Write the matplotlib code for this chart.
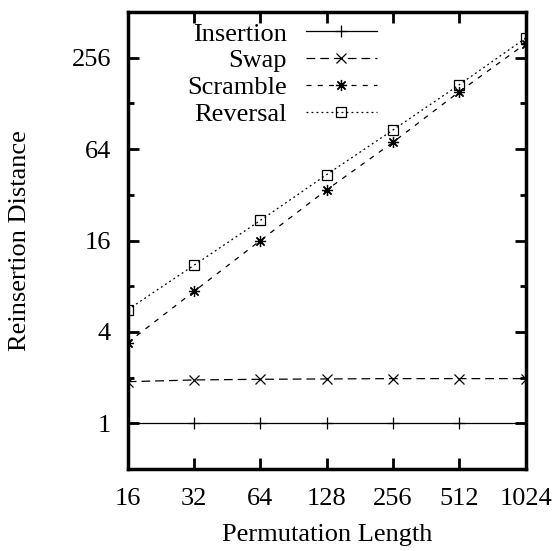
import numpy as np
import matplotlib
matplotlib.use('Agg')
import matplotlib.pyplot as plt
from matplotlib.ticker import FixedLocator, NullFormatter

plt.rcParams['font.family'] = 'serif'
plt.rcParams['font.serif'] = ['Liberation Serif', 'DejaVu Serif']

lengths = [16, 32, 64, 128, 256, 512, 1024]
insertion = [1, 1, 1, 1, 1, 1, 1]
swap = [1.88, 1.93, 1.95, 1.96, 1.97, 1.97, 1.97]
scramble = [3.4, 7.4, 16.0, 34.5, 71, 153, 317]
reversal = [5.6, 11.0, 21.7, 43.5, 85.6, 170, 345]

xticks = [16, 32, 64, 128, 256, 512, 1024]
yticks = [1, 4, 16, 64, 256]
yminor = [2, 8, 32, 128]

fig = plt.figure(figsize=(5.53, 5.51), dpi=100)
ax = fig.add_axes([0.231, 0.1488, 0.7196, 0.8294])

lw = 0.9
ax.plot(lengths, insertion, color='black', linewidth=lw, linestyle='-',
        marker='+', markersize=8, markeredgewidth=0.9, label='Insertion')
ax.plot(lengths, swap, color='black', linewidth=lw, linestyle=(0, (7, 4)),
        marker='x', markersize=7, markeredgewidth=0.9, label='Swap')
ax.plot(lengths, scramble, color='black', linewidth=lw, linestyle=(0, (4, 5)),
        marker=(8, 2, 0), markersize=8, markeredgewidth=0.9, label='Scramble')
ax.plot(lengths, reversal, color='black', linewidth=lw, linestyle=(0, (1.5, 2.5)),
        marker='s', markersize=7, markerfacecolor='none', markeredgewidth=0.9,
        label='Reversal')

ax.set_xscale('log', base=2)
ax.set_yscale('log', base=2)
ax.set_xlim(16, 1024)
ax.set_ylim(0.5, 512)

ax.xaxis.set_major_locator(FixedLocator(xticks))
ax.set_xticklabels([str(v) for v in xticks])
ax.xaxis.set_minor_locator(FixedLocator([]))
ax.yaxis.set_major_locator(FixedLocator(yticks))
ax.set_yticklabels([str(v) for v in yticks])
ax.yaxis.set_minor_locator(FixedLocator(yminor))
ax.yaxis.set_minor_formatter(NullFormatter())

ax.tick_params(which='both', direction='in', top=True, right=True,
               labelsize=19, width=2)
ax.tick_params(which='major', length=8, pad=12)
ax.tick_params(axis='x', which='major', pad=14)
ax.tick_params(which='minor', length=4)
for s in ax.spines.values():
    s.set_linewidth(2.5)

ax.set_xlabel('Permutation Length', fontsize=19, labelpad=10)
ax.set_ylabel('Reinsertion Distance', fontsize=19, labelpad=29)

ax.legend(loc='upper right', bbox_to_anchor=(0.626, 0.978), frameon=False,
          markerfirst=False, fontsize=19, handlelength=2.7, handletextpad=0.7,
          labelspacing=0.125, borderpad=0, borderaxespad=0)

fig.savefig('out.png', dpi=100)
